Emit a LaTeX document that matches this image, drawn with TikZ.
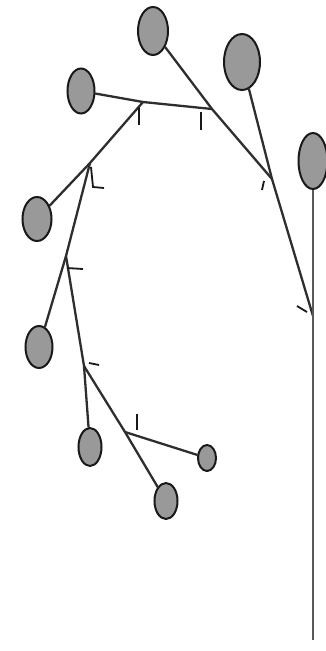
\documentclass[tikz,border=0pt]{standalone}
\usetikzlibrary{shapes.geometric}
\begin{document}
\begin{tikzpicture}[x=1pt,y=-1pt,
  leaf/.style={ellipse,draw=black!90,line width=2pt,fill=black!40,inner sep=0pt},
  edge/.style={draw=black!82,line width=2.3pt,line cap=round},
  stem/.style={draw=black!65,line width=2pt},
  tick/.style={draw=black!90,line width=1.8pt}]
\useasboundingbox (0,0) rectangle (326,651);
% leaves
\node[leaf,minimum width=30pt,minimum height=48pt] (L1) at (153,31) {};
\node[leaf,minimum width=36pt,minimum height=56pt] (L2) at (242,62) {};
\node[leaf,minimum width=27pt,minimum height=45pt] (L3) at (81,91) {};
\node[leaf,minimum width=29pt,minimum height=56pt] (L4) at (313,161) {};
\node[leaf,minimum width=29pt,minimum height=44pt] (L5) at (37,219) {};
\node[leaf,minimum width=27pt,minimum height=42pt] (L6) at (39,347) {};
\node[leaf,minimum width=23pt,minimum height=38pt] (L7) at (90,447) {};
\node[leaf,minimum width=18pt,minimum height=26pt] (L8) at (207,458) {};
\node[leaf,minimum width=23pt,minimum height=36pt] (L9) at (166,501) {};
% internal nodes
\coordinate (A) at (143,102);
\coordinate (B) at (212,109);
\coordinate (C) at (272,179);
\coordinate (D) at (313,316);
\coordinate (E) at (90,163);
\coordinate (F) at (66,256);
\coordinate (G) at (84,366);
\coordinate (H) at (125,432);
\coordinate (R) at (313,640);
% edges
\draw[edge] (L3) -- (A) -- (B);
\draw[edge] (L1) -- (B) -- (C) -- (D);
\draw[edge] (L2) -- (C);
\draw[stem] (L4) -- (D) -- (R);
\draw[edge] (A) -- (E) -- (L5);
\draw[edge] (E) -- (F) -- (L6);
\draw[edge] (F) -- (G) -- (L7);
\draw[edge] (G) -- (H) -- (L9);
\draw[edge] (H) -- (L8);
% tick marks
\draw[tick] ([shift={(-4,5)}]A) -- ++(0,18);
\draw[tick] ([shift={(-11,3)}]B) -- ++(0,18);
\draw[tick] ([shift={(1,4)}]E) -- ++(2,20) -- ++(11,1);
\draw[tick] ([shift={(-8,2)}]C) -- ++(-2,9);
\draw[tick] ([shift={(-16,-10)}]D) -- ++(10,6);
\draw[tick] ([shift={(1,12)}]F) -- ++(16,1);
\draw[tick] ([shift={(5,-3)}]G) -- ++(10,2);
\draw[tick] ([shift={(12,-2)}]H) -- ++(0,-16);
\end{tikzpicture}
\end{document}
